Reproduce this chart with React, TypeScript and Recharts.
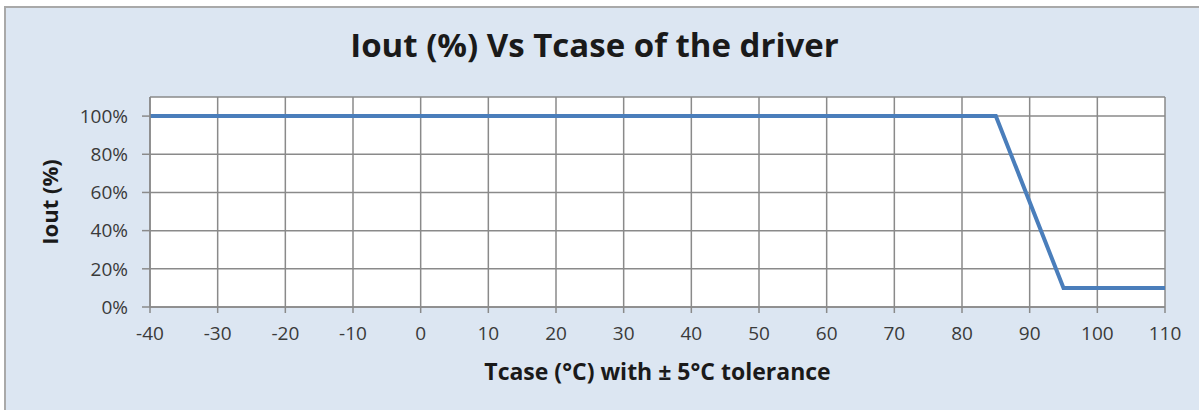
import React from 'react';
import { LineChart, Line, XAxis, YAxis, CartesianGrid } from 'recharts';

const temperatures = [-40, 85, 95, 110];
const ioutValues = [1.0, 1.0, 0.1, 0.1];
const xTicks = [-40, -30, -20, -10, 0, 10, 20, 30, 40, 50, 60, 70, 80, 90, 100, 110];
const yTicks = [0, 0.2, 0.4, 0.6, 0.8, 1.0];

const data = temperatures.map((t, i) => ({ t, iout: ioutValues[i] }));

const FONT = '"Open Sans", "Noto Sans", sans-serif';

export default function App() {
  return (
    <div style={{ position: 'absolute', left: 0, top: 0, width: 1199, height: 410, background: '#ffffff', overflow: 'hidden', fontFamily: FONT }}>
      <div style={{ position: 'absolute', left: 4, top: 6, width: 1197, height: 406, background: '#DCE6F2', borderTop: '2px solid #A9A9A9', borderLeft: '2px solid #A9A9A9', boxSizing: 'border-box' }} />
      <div style={{ position: 'absolute', left: 0, top: 22, width: 1189, textAlign: 'center', fontSize: 33, fontWeight: 700, color: '#1a1a1a', lineHeight: '46px' }}>
        Iout (%) Vs Tcase of the driver
      </div>
      <div style={{ position: 'absolute', left: 0, top: 0 }}>
        <LineChart width={1199} height={410} data={data} margin={{ top: 97, right: 34, bottom: 0, left: 0 }}>
          <CartesianGrid stroke="#8A8A8A" strokeWidth={1.5} fill="#ffffff" />
          <XAxis
            dataKey="t"
            type="number"
            domain={[-40, 110]}
            ticks={xTicks}
            interval={0}
            height={103}
            stroke="#8A8A8A"
            strokeWidth={1.5}
            tickSize={6}
            tickMargin={14}
            tick={{ fill: '#3a3a3a', fontSize: 19, fontFamily: FONT }}
            label={{ value: 'Tcase (°C) with ± 5°C tolerance', position: 'insideBottom', offset: 30, style: { fill: '#1a1a1a', fontSize: 23, fontWeight: 700, fontFamily: FONT } }}
          />
          <YAxis
            type="number"
            domain={[0, 1.1]}
            ticks={yTicks}
            interval={0}
            width={150}
            stroke="#8A8A8A"
            strokeWidth={1.5}
            tickSize={8}
            tickMargin={14}
            tickFormatter={(v: number) => `${Math.round(v * 100)}%`}
            tick={{ fill: '#3a3a3a', fontSize: 19, fontFamily: FONT }}
            label={{ value: 'Iout (%)', angle: -90, position: 'insideLeft', offset: 50, style: { textAnchor: 'middle', fill: '#1a1a1a', fontSize: 22, fontWeight: 700, fontFamily: FONT } }}
          />
          <Line type="linear" dataKey="iout" stroke="#4A7EBB" strokeWidth={4} dot={false} isAnimationActive={false} />
        </LineChart>
      </div>
    </div>
  );
}
